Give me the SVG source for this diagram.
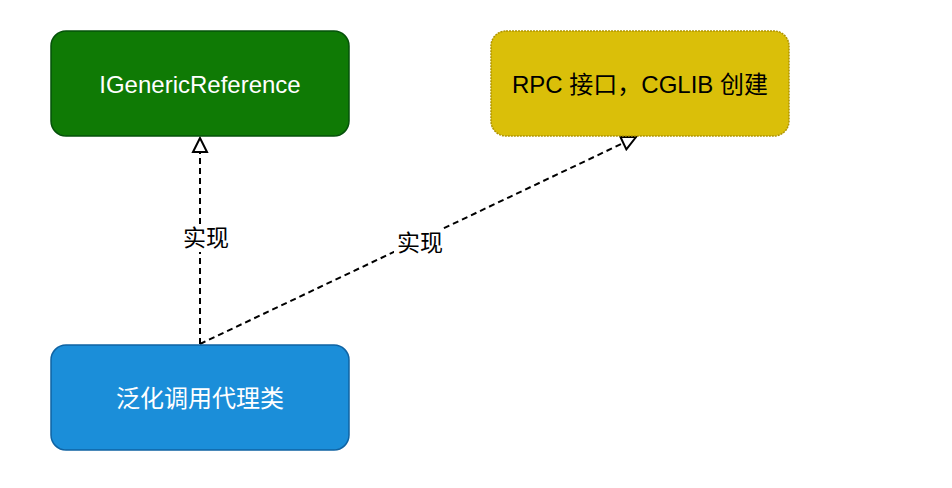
<svg xmlns="http://www.w3.org/2000/svg" width="952" height="488" viewBox="0 0 952 488">
<style>
.t{font-family:"Liberation Sans","Noto Sans CJK SC",sans-serif;font-size:24px;text-anchor:middle;dominant-baseline:central}
.e{fill:none;stroke:#000;stroke-width:2;stroke-dasharray:6 4}
.lb{font-family:"Liberation Sans","Noto Sans CJK SC",sans-serif;font-size:23px;text-anchor:middle;dominant-baseline:central;fill:#000}
</style>
<defs>
<marker id="tri" markerWidth="18" markerHeight="18" refX="16" refY="9" orient="auto" markerUnits="userSpaceOnUse">
<path d="M2,2 L16,9 L2,16 Z" fill="#fff" stroke="#000" stroke-width="2"/>
</marker>
</defs>
<rect width="952" height="488" fill="#fff"/>
<g id="connectors">
<path class="e" d="M200,344 L200,138" marker-end="url(#tri)"/>
<rect x="180" y="224" width="52" height="28" fill="#fff"/>
<text class="lb" x="206" y="238">实现</text>
<path class="e" d="M200,344 L636,137" marker-end="url(#tri)"/>
<rect x="394" y="229" width="52" height="28" fill="#fff"/>
<text class="lb" x="420" y="243">实现</text>
</g>
<g id="node-igeneric">
<rect x="51" y="31" width="298" height="105" rx="15" fill="#0f7a05" stroke="#05520a" stroke-width="1.5"/>
<text class="t" x="200" y="84" fill="#fff">IGenericReference</text>
</g>
<g id="node-rpc">
<rect x="491" y="31" width="298" height="105" rx="15" fill="#dabf09" stroke="#b09500" stroke-width="1.5" stroke-dasharray="2 1"/>
<text class="t" x="640" y="84" fill="#000">RPC 接口，CGLIB 创建</text>
</g>
<g id="node-proxy">
<rect x="51" y="345" width="298" height="105" rx="15" fill="#1b8ed9" stroke="#0f63a3" stroke-width="1.5"/>
<text class="t" x="200" y="398" fill="#fff">泛化调用代理类</text>
</g>
</svg>
